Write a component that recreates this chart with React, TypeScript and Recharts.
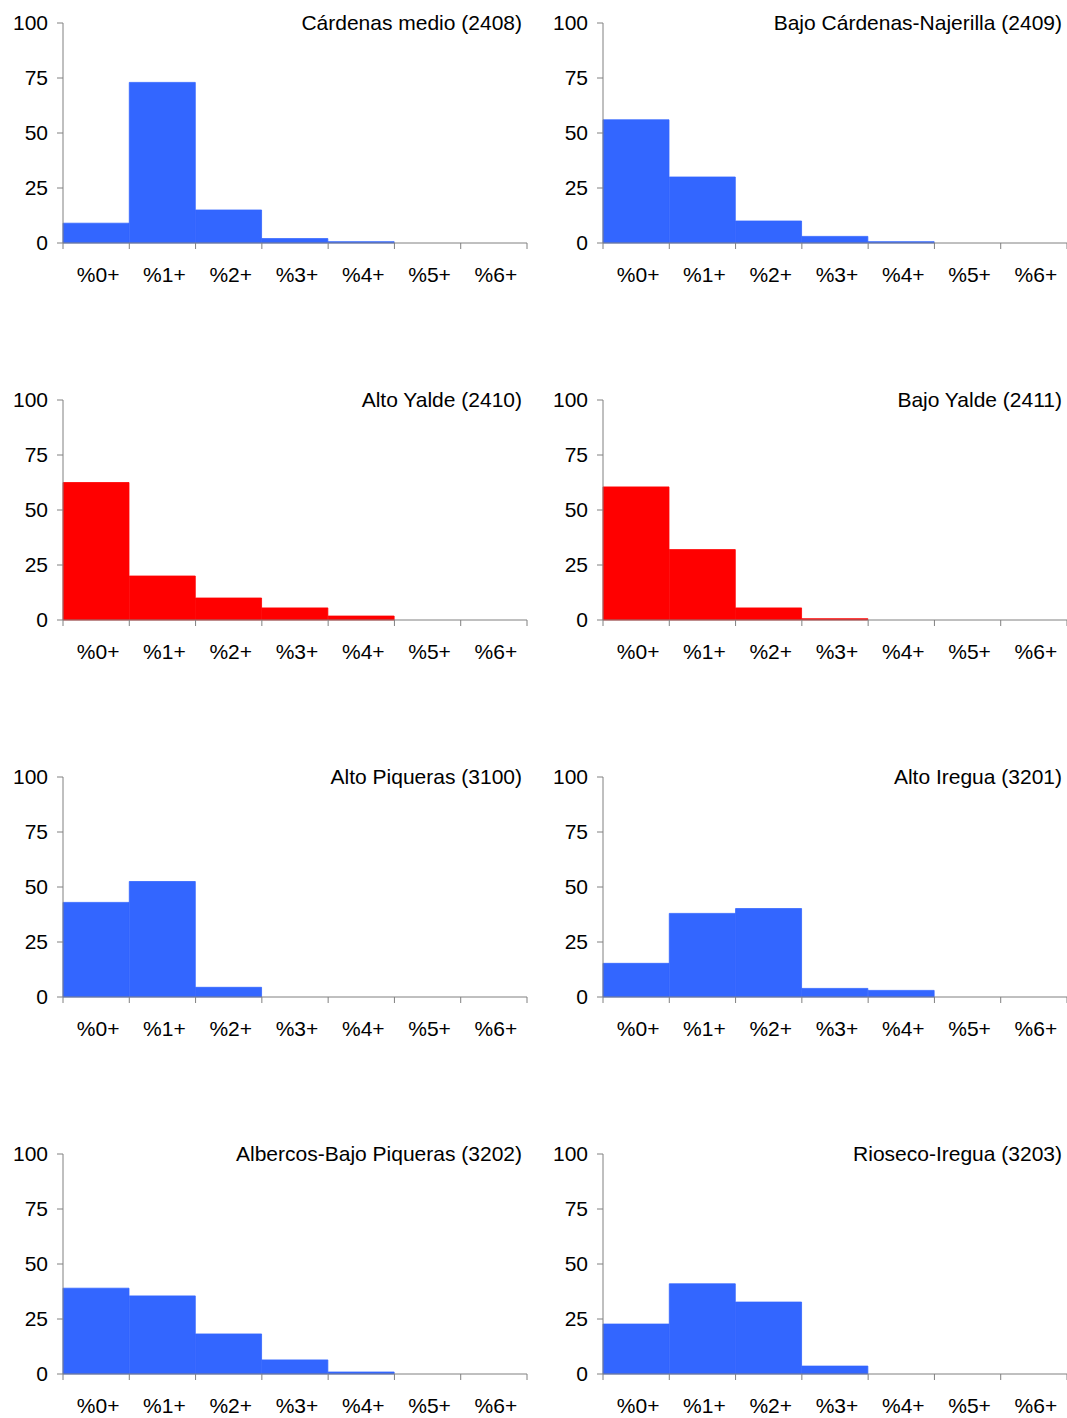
import React from 'react';
import { BarChart, Bar, XAxis, YAxis } from 'recharts';

const categories = ['%0+', '%1+', '%2+', '%3+', '%4+', '%5+', '%6+'];
const yTicks = [0, 25, 50, 75, 100];

const titles = [
  'Cárdenas medio (2408)',
  'Bajo Cárdenas-Najerilla (2409)',
  'Alto Yalde (2410)',
  'Bajo Yalde (2411)',
  'Alto Piqueras (3100)',
  'Alto Iregua (3201)',
  'Albercos-Bajo Piqueras (3202)',
  'Rioseco-Iregua (3203)',
];

const cardenasMedio = [9, 73, 15, 2, 0.6, 0, 0];
const bajoCardenas = [56, 30, 10, 3, 0.6, 0, 0];
const altoYalde = [62.5, 20, 10, 5.5, 1.8, 0, 0];
const bajoYalde = [60.5, 32, 5.5, 0.6, 0, 0, 0];
const altoPiqueras = [43, 52.5, 4.4, 0, 0, 0, 0];
const altoIregua = [15.3, 38, 40.2, 3.9, 3, 0, 0];
const albercos = [39, 35.5, 18.2, 6.4, 0.9, 0, 0];
const riosecoIregua = [22.7, 41, 32.7, 3.6, 0, 0, 0];

const seriesList = [
  cardenasMedio,
  bajoCardenas,
  altoYalde,
  bajoYalde,
  altoPiqueras,
  altoIregua,
  albercos,
  riosecoIregua,
];

const panelColors = ['#3366FF', '#3366FF', '#FF0000', '#FF0000', '#3366FF', '#3366FF', '#3366FF', '#3366FF'];

const FONT = '"Liberation Sans", Arial, sans-serif';
const AXIS = '#808080';
const PLOT_W = 464;
const BAND = PLOT_W / categories.length;

const XTick = (props: any) => {
  const { x, y, payload, index } = props;
  const left = x - BAND / 2;
  return (
    <g>
      <line x1={left} y1={y} x2={left} y2={y + 6} stroke={AXIS} />
      {index === categories.length - 1 && (
        <line x1={x + BAND / 2} y1={y} x2={x + BAND / 2} y2={y + 6} stroke={AXIS} />
      )}
      <text x={x + 2} y={y + 39} textAnchor="middle" fontSize={21} fontFamily={FONT} fill="#000">
        {payload.value}
      </text>
    </g>
  );
};

const Panel = ({ idx }: { idx: number }) => {
  const col = idx % 2;
  const row = Math.floor(idx / 2);
  const data = categories.map((c, i) => ({ name: c, value: seriesList[idx][i] }));
  const w = col === 0 ? 540 : 527;
  return (
    <div style={{ position: 'absolute', left: col * 540, top: row * 377, width: w, height: 377 }}>
      <BarChart
        width={w}
        height={377}
        data={data}
        margin={{ top: 23, right: w - 63 - PLOT_W, left: 0, bottom: 94 }}
        barCategoryGap={0}
      >
        <XAxis
          dataKey="name"
          height={40}
          tickSize={0}
          tickMargin={0}
          tickLine={false}
          axisLine={{ stroke: AXIS }}
          tick={<XTick />}
          interval={0}
        />
        <YAxis
          width={63}
          domain={[0, 100]}
          ticks={yTicks}
          interval={0}
          tickSize={6}
          tickMargin={9}
          axisLine={{ stroke: AXIS }}
          tickLine={{ stroke: AXIS }}
          tick={{ fontSize: 21, fontFamily: FONT, fill: '#000' }}
        />
        <Bar
          dataKey="value"
          fill={panelColors[idx]}
          stroke={panelColors[idx]}
          strokeWidth={0.8}
          isAnimationActive={false}
        />
      </BarChart>
      <div
        style={{
          position: 'absolute',
          right: col === 0 ? 18 : 5,
          top: 12,
          fontSize: 21,
          lineHeight: '22px',
          fontFamily: FONT,
          color: '#000',
          whiteSpace: 'nowrap',
        }}
      >
        {titles[idx]}
      </div>
    </div>
  );
};

export default function App() {
  return (
    <div
      style={{
        position: 'absolute',
        left: 0,
        top: 0,
        width: 1067,
        height: 1418,
        overflow: 'hidden',
        background: '#fff',
      }}
    >
      {titles.map((_, i) => (
        <Panel key={i} idx={i} />
      ))}
    </div>
  );
}
